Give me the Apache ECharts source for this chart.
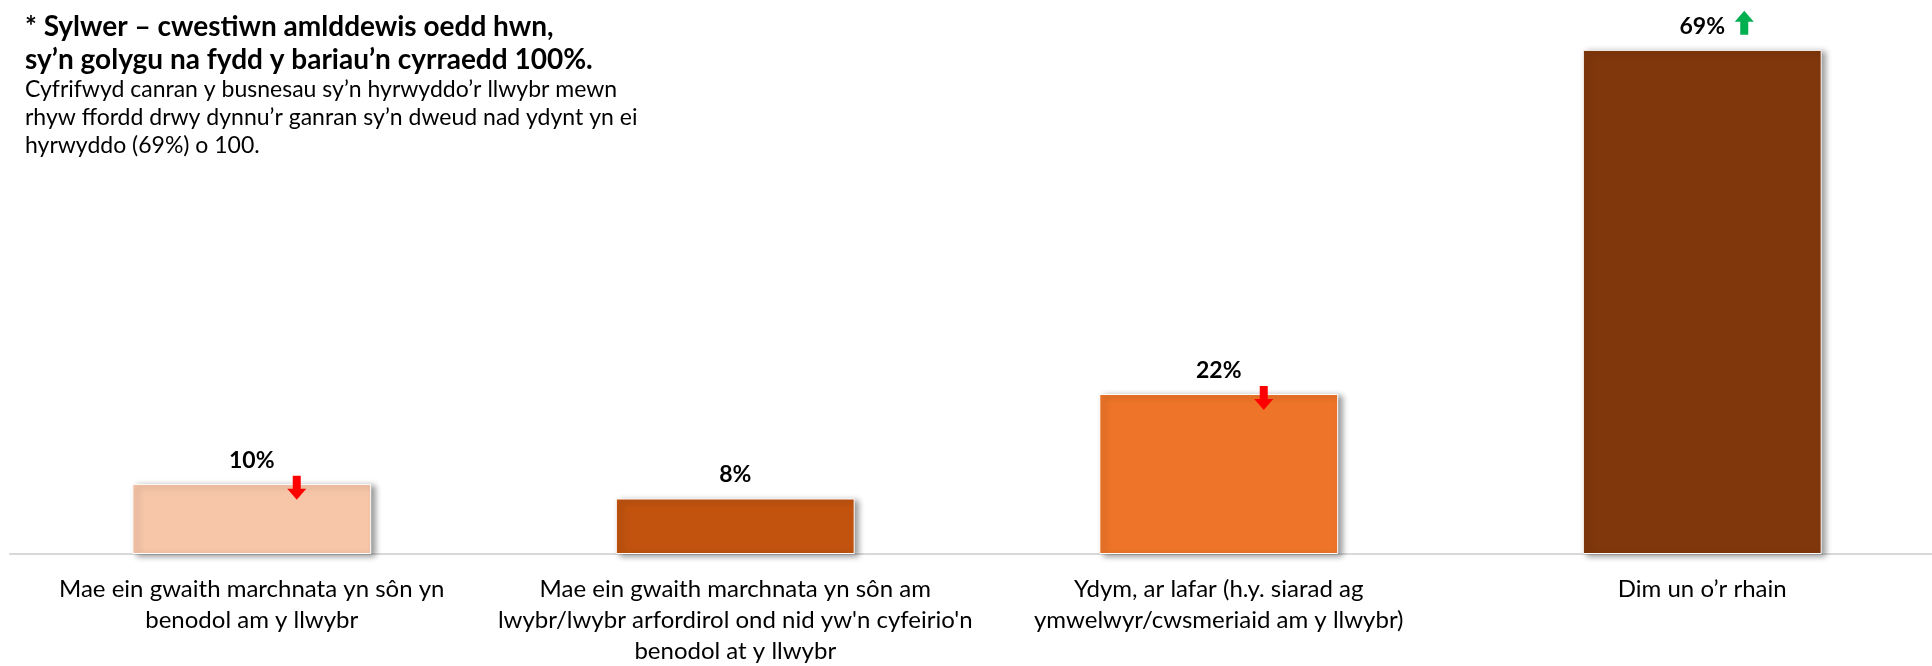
<!DOCTYPE html>
<html>
<head>
<meta charset="utf-8">
<style>
  html, body { margin: 0; padding: 0; background: #fff; }
  #main { width: 1932px; height: 666px; }
</style>
<script src="https://cdn.jsdelivr.net/npm/echarts@6/dist/echarts.min.js"></script>
</head>
<body>
<div id="main"></div>
<script>
// categories (line breaks as in the original)
var categories = [
  'Mae ein gwaith marchnata yn sôn yn\nbenodol am y llwybr',
  'Mae ein gwaith marchnata yn sôn am\nlwybr/lwybr arfordirol ond nid yw\'n cyfeirio\'n\nbenodol at y llwybr',
  'Ydym, ar lafar (h.y. siarad ag\nymwelwyr/cwsmeriaid am y llwybr)',
  'Dim un o’r rhain'
];
var values = [9.6, 7.6, 21.9, 69.0];
// change vs previous wave: -1 down, 0 none, 1 up
var trend = [-1, 0, -1, 1];

var barColors = ['#F7C6A9', '#C1530F', '#EE7429', '#80370B'];
var font = 'Lato, "Open Sans", sans-serif';

var downArrow = 'path://M5.5,0 L13.5,0 L13.5,13 L19,13 L9.5,24 L0,13 L5.5,13 Z';
var upArrow = 'path://M9.5,0 L19,11 L13.5,11 L13.5,24 L5.5,24 L5.5,11 L0,11 Z';

var arrowData = [];
trend.forEach(function (t, i) {
  if (t === 0) return;
  arrowData.push({
    value: [i, values[i]],
    symbol: t < 0 ? downArrow : upArrow,
    symbolOffset: t < 0 ? [45, 4] : [42, -27],
    itemStyle: { color: t < 0 ? '#FF0000' : '#00B050', opacity: 1 }
  });
});

var chart = echarts.init(document.getElementById('main'));
var option = {
  backgroundColor: '#fff',
  animation: false,
  title: {
    left: 20,
    top: 5,
    text: '* Sylwer – cwestiwn amlddewis oedd hwn,\nsy’n golygu na fydd y bariau’n cyrraedd 100%.',
    subtext: 'Cyfrifwyd canran y busnesau sy’n hyrwyddo’r llwybr mewn\nrhyw ffordd drwy dynnu’r ganran sy’n dweud nad ydynt yn ei\nhyrwyddo (69%) o 100.',
    itemGap: 0,
    textStyle: {
      fontFamily: font,
      fontWeight: 'bold',
      fontSize: 28,
      lineHeight: 33,
      color: '#000'
    },
    subtextStyle: {
      fontFamily: font,
      fontSize: 23,
      lineHeight: 28,
      color: '#000'
    }
  },
  grid: {
    left: 10,
    right: -12,
    top: 6,
    bottom: 112,
    outerBoundsMode: 'none'
  },
  xAxis: {
    type: 'category',
    data: categories,
    axisLine: { lineStyle: { color: '#D9D9D9', width: 2 } },
    axisTick: { length: 8, lineStyle: { color: '#D9D9D9', width: 2 } },
    axisLabel: {
      interval: 0,
      margin: 20,
      fontFamily: font,
      fontSize: 24,
      lineHeight: 31,
      color: '#000'
    }
  },
  yAxis: {
    type: 'value',
    min: 0,
    max: 75,
    show: false,
    splitLine: { show: false }
  },
  series: [{
    type: 'bar',
    barWidth: '49.4%',
    data: values.map(function (v, i) {
      return { value: v, itemStyle: { color: barColors[i] } };
    }),
    itemStyle: {
      borderColor: '#fff',
      borderWidth: 1,
      shadowBlur: 6,
      shadowOffsetX: 4,
      shadowOffsetY: 2,
      shadowColor: 'rgba(0,0,0,0.4)'
    },
    label: {
      show: true,
      position: 'top',
      distance: 12,
      fontFamily: font,
      fontWeight: 'bold',
      fontSize: 23,
      color: '#000',
      formatter: function (p) { return Math.round(p.value) + '%'; }
    }
  }, {
    type: 'scatter',
    symbolSize: [19, 24],
    data: arrowData,
    z: 5
  }]
};
chart.setOption(option);
</script>
</body>
</html>
